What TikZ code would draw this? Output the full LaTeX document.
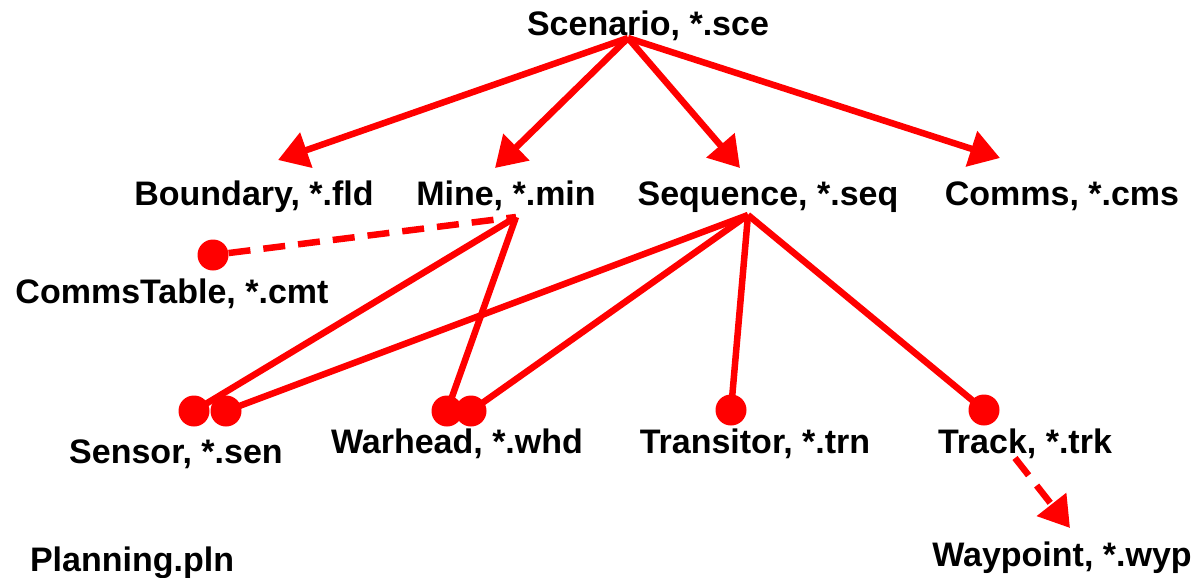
\documentclass[tikz,border=0pt]{standalone}
\usepackage{fontspec}
\setmainfont{Liberation Sans}
\usetikzlibrary{arrows.meta}
\definecolor{lred}{RGB}{255,0,0}
\begin{document}
\begin{tikzpicture}[x=1pt,y=-1pt,
  lbl/.style={font=\fontsize{34}{40}\selectfont\bfseries, inner sep=0pt, anchor=base},
  link/.style={draw=lred, line width=6.5pt},
  arr/.style={link, -{Triangle[length=30pt,width=36pt]}},
  dsh/.style={draw=lred, line width=6.5pt, dash pattern=on 22pt off 13pt},
  dot/.style={circle, fill=lred, minimum size=31pt, inner sep=0pt}]
\useasboundingbox (0,0) rectangle (1202,578);
% labels (anchored at baseline)
\node[lbl] (sce) at (648,36) {Scenario, *.sce};
\node[lbl] (fld) at (254,205) {Boundary, *.fld};
\node[lbl] (min) at (506,205) {Mine, *.min};
\node[lbl] (seq) at (768,205) {Sequence, *.seq};
\node[lbl] (cms) at (1062,205) {Comms, *.cms};
\node[lbl] (cmt) at (172,303) {CommsTable, *.cmt};
\node[lbl] (sen) at (176,463) {Sensor, *.sen};
\node[lbl] (whd) at (457,453) {Warhead, *.whd};
\node[lbl] (trn) at (755,453) {Transitor, *.trn};
\node[lbl] (trk) at (1025,453) {Track, *.trk};
\node[lbl] (wyp) at (1062,566) {Waypoint, *.wyp};
\node[lbl] (pln) at (132,571) {Planning.pln};
% anchor points
\coordinate (sceP) at (628,38);
\coordinate (fldT) at (278,160);
\coordinate (minT) at (495,168);
\coordinate (seqT) at (740,168);
\coordinate (cmsT) at (1000,158);
\coordinate (minP) at (516,217);
\coordinate (seqP) at (748,215);
\coordinate (trkP) at (1015,458);
\coordinate (wypT) at (1070,528);
% dots
\node[dot] (cmtD) at (213,255) {};
\node[dot] (senA) at (194,411) {};
\node[dot] (senB) at (226,411) {};
\node[dot] (whdA) at (447,411) {};
\node[dot] (whdB) at (471,411) {};
\node[dot] (trnD) at (731,410) {};
\node[dot] (trkD) at (984,410) {};
% arrows from scenario
\draw[arr] (sceP) -- (fldT);
\draw[arr] (sceP) -- (minT);
\draw[arr] (sceP) -- (seqT);
\draw[arr] (sceP) -- (cmsT);
% links
\draw[dsh] (cmtD) -- (minP);
\draw[link] (minP) -- (senA.center);
\draw[link] (minP) -- (whdA.center);
\draw[link] (seqP) -- (senB.center);
\draw[link] (seqP) -- (whdB.center);
\draw[link] (seqP) -- (trnD.center);
\draw[link] (seqP) -- (trkD.center);
\draw[dsh, -{Triangle[length=30pt,width=36pt]}] (trkP) -- (wypT);
\end{tikzpicture}
\end{document}
